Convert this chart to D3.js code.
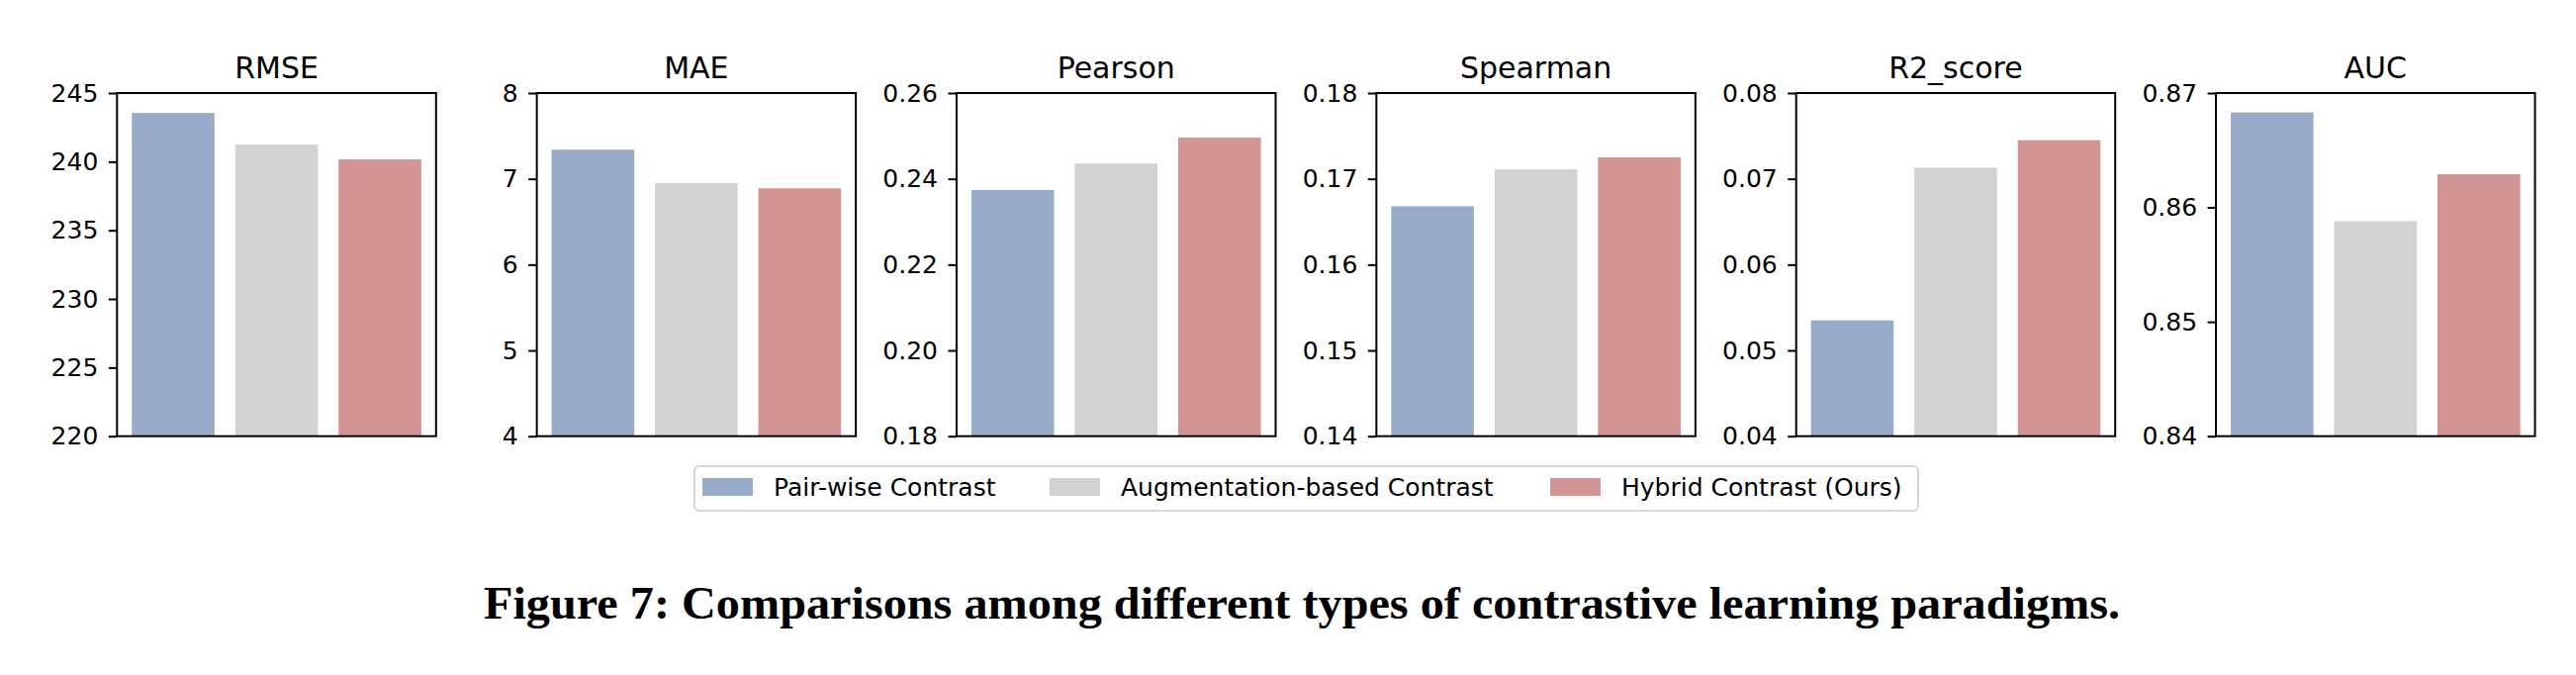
<!DOCTYPE html>
<html>
<head>
<meta charset="utf-8">
<script src="https://cdn.jsdelivr.net/npm/d3@7"></script>
<style>
  html, body { margin: 0; padding: 0; background: #fff; }
  svg { display: block; }
</style>
</head>
<body>
<svg id="chart" width="2604" height="682"></svg>
<script>
// ---- Data ----
const metrics = ["RMSE", "MAE", "Pearson", "Spearman", "R2_score", "AUC"];
const seriesNames = ["Pair-wise Contrast", "Augmentation-based Contrast", "Hybrid Contrast (Ours)"];
const pairWise      = [243.55, 7.34, 0.2374, 0.1668, 0.0535, 0.8683];
const augmentation  = [241.25, 6.95, 0.2436, 0.1711, 0.0713, 0.8588];
const hybrid        = [240.17, 6.89, 0.2496, 0.1725, 0.0745, 0.8629];
const yDomains = [[220, 245], [4, 8], [0.18, 0.26], [0.14, 0.18], [0.04, 0.08], [0.84, 0.87]];
const yTicks = [
  [220, 225, 230, 235, 240, 245],
  [4, 5, 6, 7, 8],
  [0.18, 0.20, 0.22, 0.24, 0.26],
  [0.14, 0.15, 0.16, 0.17, 0.18],
  [0.04, 0.05, 0.06, 0.07, 0.08],
  [0.84, 0.85, 0.86, 0.87]
];
const tickFormats = ["d", "d", ".2f", ".2f", ".2f", ".2f"];
const colors = ["#98abc9", "#d2d2d2", "#d39594"];
const caption = "Figure 7: Comparisons among different types of contrastive learning paradigms.";

// ---- Layout ----
const svg = d3.select("#chart");
const font = "DejaVu Sans";
const panelLeft0 = 118.3, panelStep = 424.35, panelW = 322.5;
const plotTop = 94, plotBottom = 440.7;
const series = [pairWise, augmentation, hybrid];

const x = d3.scaleBand().domain(d3.range(seriesNames.length))
  .range([0, panelW]).paddingInner(0.2).paddingOuter(0.143);

metrics.forEach((m, i) => {
  const g = svg.append("g").attr("transform", `translate(${panelLeft0 + i * panelStep},0)`);
  const y = d3.scaleLinear().domain(yDomains[i]).range([plotBottom, plotTop]);

  g.selectAll("rect.bar").data(series.map(s => s[i])).join("rect")
    .attr("class", "bar")
    .attr("x", (d, j) => x(j))
    .attr("width", x.bandwidth())
    .attr("y", d => y(d))
    .attr("height", d => y(yDomains[i][0]) - y(d))
    .attr("fill", (d, j) => colors[j]);

  const ax = g.append("g")
    .call(d3.axisLeft(y).tickValues(yTicks[i]).tickFormat(d3.format(tickFormats[i]))
      .tickSize(8.5).tickPadding(10.5));
  ax.select(".domain").remove();
  ax.selectAll(".tick line").attr("stroke", "#000").attr("stroke-width", 2);
  ax.selectAll(".tick text").attr("font-family", font).attr("font-size", 25).attr("fill", "#000");

  g.append("rect")
    .attr("x", 0).attr("y", plotTop).attr("width", panelW).attr("height", plotBottom - plotTop)
    .attr("fill", "none").attr("stroke", "#000").attr("stroke-width", 2);

  g.append("text")
    .attr("x", panelW / 2).attr("y", 79)
    .attr("text-anchor", "middle")
    .attr("font-family", font).attr("font-size", 30).attr("fill", "#000")
    .text(m);
});

// ---- Legend ----
const legend = svg.append("g");
legend.append("rect")
  .attr("x", 702).attr("y", 471).attr("width", 1237).attr("height", 45)
  .attr("rx", 5).attr("ry", 5)
  .attr("fill", "#fff").attr("stroke", "#d6d6d6").attr("stroke-width", 2);
const legendX = [710, 1061, 1567];
seriesNames.forEach((name, j) => {
  legend.append("rect")
    .attr("x", legendX[j]).attr("y", 483).attr("width", 51).attr("height", 18)
    .attr("fill", colors[j]);
  legend.append("text")
    .attr("x", legendX[j] + 72).attr("y", 501)
    .attr("font-family", font).attr("font-size", 25).attr("fill", "#000")
    .text(name);
});

// ---- Caption ----
const cap = svg.append("text")
  .attr("x", 1316).attr("y", 625)
  .attr("text-anchor", "middle")
  .attr("font-family", "Liberation Serif").attr("font-weight", "bold")
  .attr("font-size", 40).attr("fill", "#000")
  .text(caption);
const targetW = 1654;
const w = cap.node().getComputedTextLength();
if (w > 0) {
  const fs = Math.max(34, Math.min(46, 40 * targetW / w));
  cap.attr("font-size", fs);
  const w2 = cap.node().getComputedTextLength();
  if (Math.abs(w2 - targetW) > 8) cap.attr("textLength", targetW).attr("lengthAdjust", "spacingAndGlyphs");
}
</script>
</body>
</html>
